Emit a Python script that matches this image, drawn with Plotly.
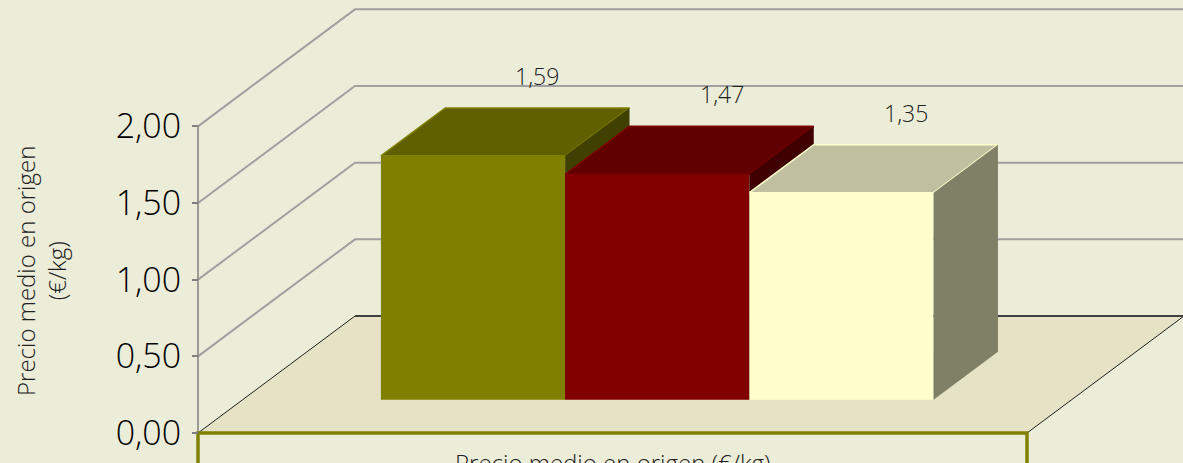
import plotly.graph_objects as go

# ---------------- data ----------------
categories = ["Precio medio en origen (€/kg)"]
series_names = ["Serie 1", "Serie 2", "Serie 3"]
values = [1.59, 1.47, 1.35]
value_labels = ["1,59", "1,47", "1,35"]
y_ticks = [0.0, 0.5, 1.0, 1.5, 2.0]
y_tick_labels = ["0,00", "0,50", "1,00", "1,50", "2,00"]
y_title = "Precio medio en origen<br>(€/kg)"

# ---------------- styles ----------------
BG = "#ECEDD9"
FLOOR = "#E6E2C6"
GRID = "#A0A0A0"
front_colors = ["#808000", "#800000", "#FFFFCC"]
top_colors = ["#606000", "#600000", "#C0C0A0"]
side_colors = ["#404000", "#400000", "#808066"]
FONT = "Open Sans"

# ---------------- geometry (oblique projection) ----------------
W, H = 1183, 463
ORIGIN_PX = (198, 433)       # front-left corner of the floor
FLOOR_W_PX = 829             # floor front width
PX_PER_UNIT = 153.33         # vertical px per value unit
DEPTH_PX = (157, -117)       # depth vector in px

DX = DEPTH_PX[0] / FLOOR_W_PX
DY = -DEPTH_PX[1] / PX_PER_UNIT
x_range = [-ORIGIN_PX[0] / FLOOR_W_PX, (W - ORIGIN_PX[0]) / FLOOR_W_PX]
y_range = [-(H - ORIGIN_PX[1]) / PX_PER_UNIT, ORIGIN_PX[1] / PX_PER_UNIT]

n = len(values)
gap_width = 1.5
bar_w = 1.0 / (n + gap_width)
gap = bar_w * gap_width / 2
d_front, d_back = 0.285, 0.695


def proj(x, v, d):
    return x + DX * d, v + DY * d


def poly(points):
    xs, ys = zip(*[proj(*p) for p in points])
    return list(xs), list(ys)


fig = go.Figure()


def add_fill(points, color, line_color=None, line_width=0, close=True):
    pts = list(points) + ([points[0]] if close else [])
    xs, ys = poly(pts)
    fig.add_trace(go.Scatter(
        x=xs, y=ys, mode="lines", fill="toself", fillcolor=color,
        line=dict(color=line_color or color, width=line_width),
        hoverinfo="skip", showlegend=False))


def add_line(points, color, width):
    xs, ys = poly(points)
    fig.add_trace(go.Scatter(
        x=xs, y=ys, mode="lines", line=dict(color=color, width=width),
        hoverinfo="skip", showlegend=False))


# floor
add_fill([(0, 0, 0), (1, 0, 0), (1, 0, 1), (0, 0, 1)], FLOOR)
add_line([(0, 0, 0), (0, 0, 1)], "#202020", 1)
add_line([(1, 0, 0), (1, 0, 1)], "#202020", 1)
add_line([(0, 0, 1), (1.2, 0, 1)], "#404040", 2)

# gridlines on side and back walls
for v in y_ticks:
    if v > 0:
        add_line([(0, v, 0), (0, v, 1), (1.2, v, 1)], GRID, 2)

# vertical axis line
add_line([(0, 0, 0), (0, max(y_ticks), 0)], "#808080", 1.5)

# category box under the floor
add_line([(0, -1, 0), (0, 0, 0), (1, 0, 0), (1, -1, 0)], "#808000", 3.5)

# bars
for i, v in enumerate(values):
    x0 = gap + i * bar_w
    x1 = x0 + bar_w
    add_fill([(x0, 0, d_front), (x1, 0, d_front), (x1, v, d_front), (x0, v, d_front)],
             front_colors[i])
    add_fill([(x0, v, d_front), (x1, v, d_front), (x1, v, d_back), (x0, v, d_back)],
             top_colors[i], line_color=front_colors[i], line_width=1.5)
    add_fill([(x1, 0, d_front), (x1, v, d_front), (x1, v, d_back), (x1, 0, d_back)],
             side_colors[i])
    lx, ly = proj((x0 + x1) / 2, v, d_back)
    fig.add_annotation(x=lx, y=ly, xref="x", yref="y", text=value_labels[i],
                       showarrow=False, yanchor="bottom", yshift=14,
                       font=dict(family=FONT, size=23, color="#202020", weight=300))

# category label inside the box
fig.add_annotation(x=0.5, y=-(444 - ORIGIN_PX[1]) / PX_PER_UNIT, xref="x", yref="y",
                   text=categories[0], showarrow=False, yanchor="top",
                   font=dict(family=FONT, size=24, color="#202020", weight=300))

# y-axis title
fig.add_annotation(x=41 / W, y=1 - 271 / H, xref="paper", yref="paper",
                   xanchor="center", yanchor="middle",
                   text=y_title, showarrow=False, textangle=-90,
                   font=dict(family=FONT, size=24, color="#202020", weight=300))

fig.update_layout(
    width=W, height=H, autosize=False,
    margin=dict(l=0, r=0, t=0, b=0),
    paper_bgcolor=BG, plot_bgcolor=BG,
    showlegend=False,
    xaxis=dict(range=x_range, visible=False, fixedrange=True),
    yaxis=dict(range=y_range, anchor="free", position=ORIGIN_PX[0] / W,
               tickvals=y_ticks, ticktext=y_tick_labels,
               ticks="outside", ticklen=6, tickcolor="#808080", tickwidth=1.5,
               ticklabelstandoff=4,
               showgrid=False, zeroline=False, showline=False,
               tickfont=dict(family=FONT, size=34, color="#000000", weight=300),
               fixedrange=True),
)

fig.write_html(
    "out.html",
    config={"displayModeBar": False},
    post_script="document.body.style.margin='0';document.body.style.padding='0';"
                "document.body.style.background='%s';" % BG,
)
